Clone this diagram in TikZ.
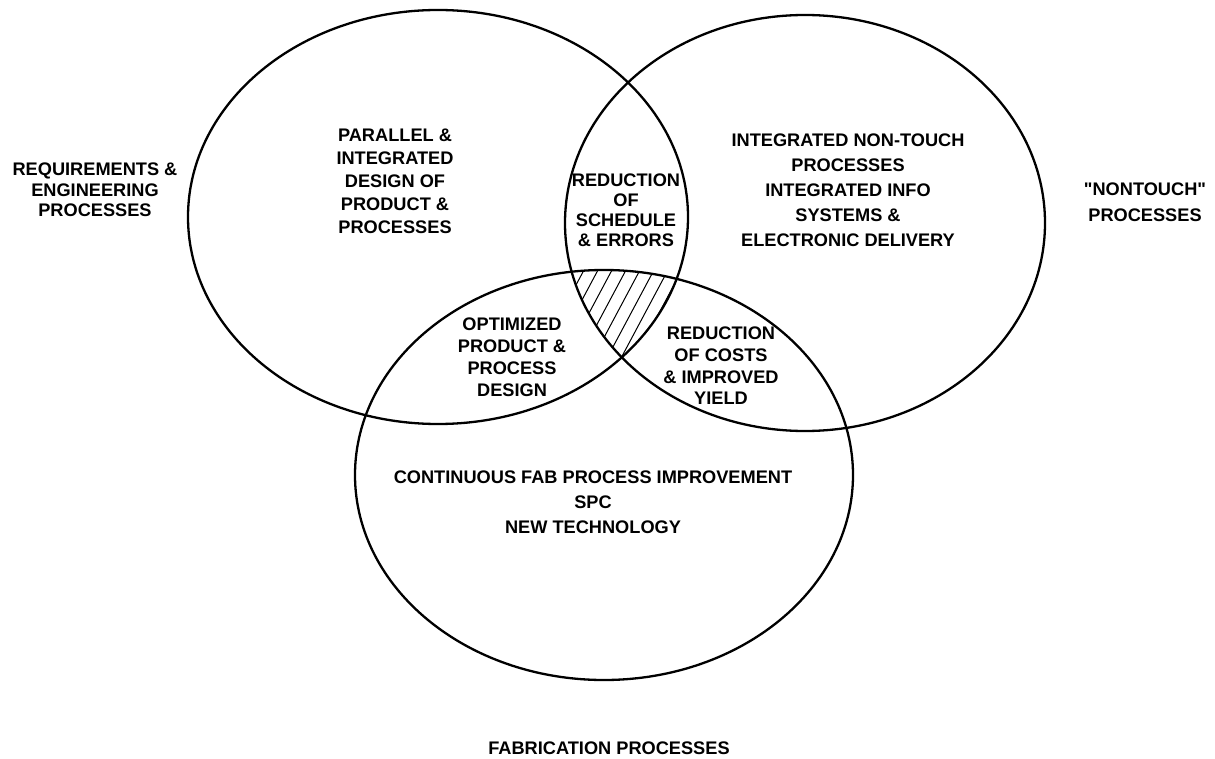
\documentclass[tikz,border=0pt]{standalone}
\usepackage{fontspec}
\setmainfont{Liberation Sans}

\begin{document}
\begin{tikzpicture}[x=1pt,y=-1pt,
  ring/.style={line width=2.3pt},
  lbl/.style={font=\bfseries\fontsize{18.2}{#1}\selectfont,align=center,inner sep=0pt},
  lbl/.default=22]
\useasboundingbox (0,0) rectangle (1215,759);
% the three process circles
\draw[ring] (438,217) ellipse (250pt and 207pt);
\draw[ring] (805,223) ellipse (240pt and 208pt);
\draw[ring] (604,475) ellipse (249pt and 205pt);
% common part of all three
\begin{scope}
\clip (438,217) ellipse (250pt and 207pt);
\clip (805,223) ellipse (240pt and 208pt);
\clip (604,475) ellipse (249pt and 205pt);
\foreach \i in {420,434,...,720}
  \draw[line width=1pt] (\i,420) -- ++(120,-225);
\end{scope}
% labels
\node[lbl=20.5] (reqproc) at (95,190) {REQUIREMENTS \&\\ENGINEERING\\PROCESSES};
\node[lbl=26] (nontouch) at (1145,202) {\textquotedbl NONTOUCH\textquotedbl\\PROCESSES};
\node[lbl] (fabproc) at (609,748) {FABRICATION PROCESSES};
\node[lbl=23] (parallel) at (395,181) {PARALLEL \&\\INTEGRATED\\DESIGN OF\\PRODUCT \&\\PROCESSES};
\node[lbl=25] (integ) at (848,190) {INTEGRATED NON-TOUCH\\PROCESSES\\INTEGRATED INFO\\SYSTEMS \&\\ELECTRONIC DELIVERY};
\node[lbl=25] (contfab) at (593,502) {CONTINUOUS FAB PROCESS IMPROVEMENT\\SPC\\NEW TECHNOLOGY};
\node[lbl=20] (schedule) at (626,210) {REDUCTION\\OF\\SCHEDULE\\\& ERRORS};
\node[lbl] (optim) at (512,357) {OPTIMIZED\\PRODUCT \&\\PROCESS\\DESIGN};
\node[lbl=21.7] (costs) at (721,366) {REDUCTION\\OF COSTS\\\& IMPROVED\\YIELD};
\end{tikzpicture}
\end{document}
